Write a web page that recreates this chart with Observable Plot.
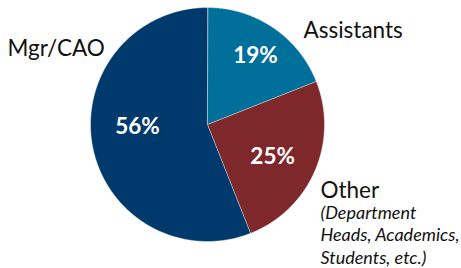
<!DOCTYPE html>
<html><head><meta charset="utf-8">
<script src="https://cdn.jsdelivr.net/npm/d3@7"></script>
<script src="https://cdn.jsdelivr.net/npm/@observablehq/plot@0.6"></script>
<style>body{margin:0;background:#fff}</style>
</head><body><div id="chart"></div>
<script>
// data
const categories = ["Assistants", "Other", "Mgr/CAO"];
const values = [19, 25, 56];
const pctLabels = ["19%", "25%", "56%"];
const colors = ["#00709a", "#7f282c", "#003a6c"];
const otherNote = "(Department\nHeads, Academics,\nStudents, etc.)";

// layout
const W = 461, H = 268, cx = 207, cy = 124, R = 117;
const pctOffset = [[0.8, 0.8], [-12, -0.7], [12.5, -13.4]];
const outerPos = {"Assistants": [303, 37], "Other": [320, 197], "Mgr/CAO": [7, 55]};

const arcs = d3.pie().sort(null).value(d => d.value)(
  categories.map((c, i) => ({cat: c, value: values[i], label: pctLabels[i]})));

const pts = [];
for (const a of arcs) {
  pts.push({cat: a.data.cat, x: cx, y: cy});
  const n = Math.ceil((a.endAngle - a.startAngle) / (Math.PI / 360));
  for (let k = 0; k <= n; k++) {
    const t = a.startAngle + (a.endAngle - a.startAngle) * k / n;
    pts.push({cat: a.data.cat, x: cx + R * Math.sin(t), y: cy - R * Math.cos(t)});
  }
}
const pctData = arcs.map((a, i) => {
  const m = (a.startAngle + a.endAngle) / 2, r = 84;
  return {label: a.data.label, x: cx + r * Math.sin(m) + pctOffset[i][0], y: cy - r * Math.cos(m) + pctOffset[i][1]};
});
const outerData = categories.map(c => ({label: c, x: outerPos[c][0], y: outerPos[c][1]}));
const noteData = [{label: otherNote, x: outerPos["Other"][0], y: outerPos["Other"][1] + 66}];

const chart = Plot.plot({
  width: W, height: H, margin: 0,
  style: {fontFamily: "Lato", background: "white"},
  x: {domain: [0, W], axis: null},
  y: {domain: [0, H], reverse: true, axis: null},
  color: {domain: categories, range: colors},
  marks: [
    Plot.line(pts, {x: "x", y: "y", z: "cat", fill: "cat", stroke: "#ffffff", strokeWidth: 0.6, strokeOpacity: 0.7, curve: "linear-closed"}),
    Plot.text(pctData, {x: "x", y: "y", text: "label", fill: "white", fontSize: 22.5, fontWeight: "bold", lineAnchor: "middle", textAnchor: "middle"}),
    Plot.text(outerData, {x: "x", y: "y", text: "label", fill: "#111", fontSize: 22.5, lineAnchor: "bottom", textAnchor: "start"}),
    Plot.text(noteData, {x: "x", y: "y", text: "label", fill: "#111", fontSize: 18, fontStyle: "italic", lineHeight: 1.25, lineAnchor: "bottom", textAnchor: "start"})
  ]
});
document.getElementById("chart").appendChild(chart);
</script>
</body></html>
